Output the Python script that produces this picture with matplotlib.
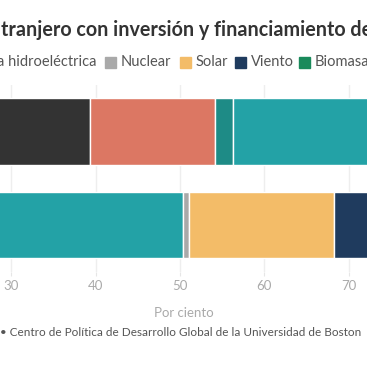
import numpy as np
import matplotlib
matplotlib.use("Agg")
import matplotlib.pyplot as plt
from matplotlib.patches import Rectangle

plt.rcParams['font.family'] = ['Lato', 'DejaVu Sans']

# Data (percent of capacity per source, stacked left to right)
sources = ["Carbón", "Gas", "Petróleo", "Energía hidroeléctrica",
           "Nuclear", "Solar", "Viento", "Biomasa"]
colors = ["#333333", "#dc7763", "#1e8b86", "#23a2a6",
          "#a9a9a9", "#f3bc68", "#1f3b5e", "#1a8a5b"]
top_bar = [39.35, 14.75, 2.2, 43.7, 0.0, 0.0, 0.0, 0.0]
bottom_bar = [0.0, 0.0, 0.0, 50.3, 0.8, 17.2, 29.7, 2.0]
bars = [top_bar, bottom_bar]
ticks = [30, 40, 50, 60, 70]

W = H = 367
fig = plt.figure(figsize=(W / 100, H / 100), dpi=100)

# axes placed so that the visible window matches the cropped chart
ax_top_px, ax_bot_px = 85.0, 271.7
ax = fig.add_axes([0, 1 - ax_bot_px / H, 1, (ax_bot_px - ax_top_px) / H])

for i, vals in enumerate(bars):
    left = 0.0
    for v, c in zip(vals, colors):
        if v > 0:
            ax.barh(i, v, left=left, height=0.714, color=c,
                    edgecolor='white', linewidth=1.0, zorder=2)
        left += v

ax.set_xlim(28.636, 72.17)
ax.set_ylim(1.5, -0.5)
ax.set_xticks(ticks)
ax.set_yticks([])
ax.grid(axis='x', color='#eeeeee', linewidth=1, zorder=0)
ax.set_axisbelow(True)
for s in ax.spines.values():
    s.set_visible(False)
ax.tick_params(axis='x', length=3, color='#e6e6e6', pad=3,
               labelsize=9.5, labelcolor='#aaaaaa')
ax.set_xlabel("Por ciento", fontsize=9.5, color='#aaaaaa', labelpad=11)

# Title (cropped on both sides)
fig.text(1 / W, 1 - 29.5 / H, "tranjero con inversión y financiamiento de China",
         fontsize=14.2, fontweight='bold', color='#333333', va='center', ha='left')

# Legend row
leg_y = 1 - 62 / H
sq = 11
fig.canvas.draw()
renderer = fig.canvas.get_renderer()
legend_items = [("Energía hidroeléctrica", colors[3], None),
                ("Nuclear", colors[4], 105),
                ("Solar", colors[5], 180),
                ("Viento", colors[6], 235),
                ("Biomasa", colors[7], 299)]
for label, c, x0 in legend_items:
    if x0 is None:
        t = fig.text(97 / W, leg_y, label, fontsize=10.5, color='#555555',
                     va='center', ha='right')
        bb = t.get_window_extent(renderer)
        fig.patches.append(Rectangle((bb.x0 / W - (sq + 5) / W, leg_y - sq / 2 / H),
                                     sq / W, sq / H, transform=fig.transFigure,
                                     color=c, figure=fig))
        continue
    fig.patches.append(Rectangle((x0 / W, leg_y - sq / 2 / H), sq / W, sq / H,
                                 transform=fig.transFigure, color=c, figure=fig))
    fig.text((x0 + sq + 5) / W, leg_y, label, fontsize=10.5, color='#555555',
             va='center', ha='left')

# Source line (cropped on the left)
fig.text(361 / W, 1 - 333 / H,
         "China • Centro de Política de Desarrollo Global de la Universidad de Boston",
         fontsize=8.45, color='#555555', va='center', ha='right')

fig.savefig("out.png", dpi=100)
